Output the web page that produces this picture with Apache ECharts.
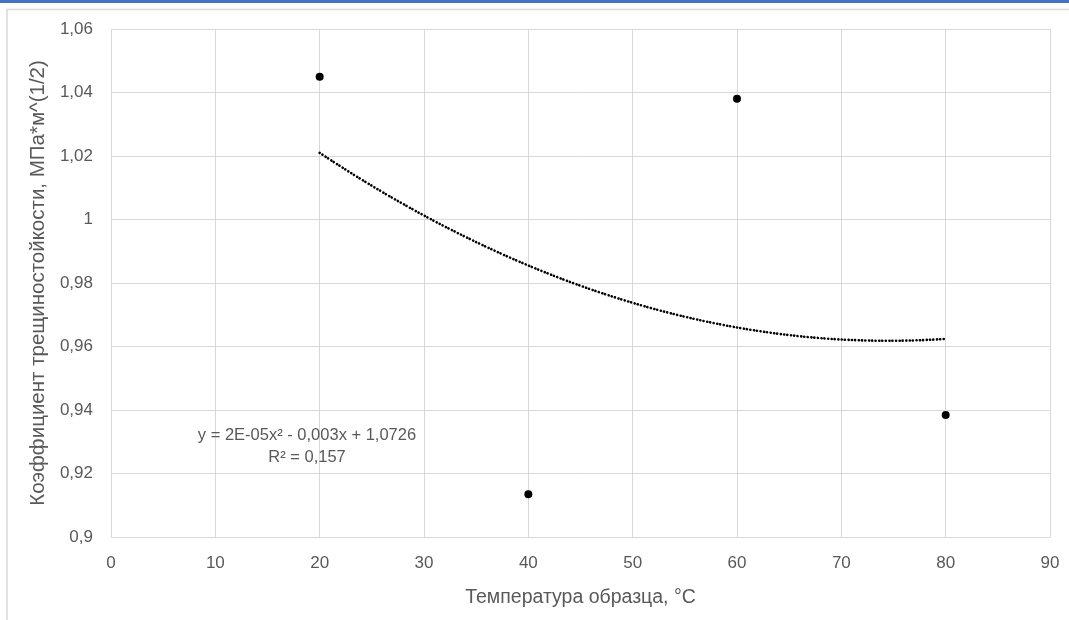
<!DOCTYPE html>
<html>
<head>
<meta charset="utf-8">
<script src="https://cdn.jsdelivr.net/npm/echarts@6/dist/echarts.min.js"></script>
<style>
  html, body { margin: 0; padding: 0; background: #ffffff; }
  #chart { width: 1069px; height: 620px; }
</style>
</head>
<body>
<div id="chart"></div>
<script>
// Measured samples: specimen temperature and fracture toughness
const tempC = [20, 40, 60, 80];
const kIc = [1.045, 0.9135, 1.038, 0.9384];

// Axis ticks
const xTicks = [0, 10, 20, 30, 40, 50, 60, 70, 80, 90];
const yTicks = [0.9, 0.92, 0.94, 0.96, 0.98, 1, 1.02, 1.04, 1.06];

// Trendline caption
const trendCaption = ['y = 2E-05x² - 0,003x + 1,0726', 'R² = 0,157'];

const axisNames = {
  x: 'Температура образца, °C',
  y: 'Коэффициент трещиностойкости, МПа*м^(1/2)'
};

// Second-order least-squares fit of the measurements (polynomial trendline)
function quadFit(xs, ys) {
  const n = xs.length;
  let s = [0, 0, 0, 0, 0], t = [0, 0, 0];
  for (let i = 0; i < n; i++) {
    let p = 1;
    for (let k = 0; k < 5; k++) { s[k] += p; if (k < 3) t[k] += p * ys[i]; p *= xs[i]; }
  }
  // normal equations for c0 + c1 x + c2 x^2
  const M = [[s[0], s[1], s[2], t[0]], [s[1], s[2], s[3], t[1]], [s[2], s[3], s[4], t[2]]];
  for (let c = 0; c < 3; c++) {
    let piv = c;
    for (let r = c + 1; r < 3; r++) if (Math.abs(M[r][c]) > Math.abs(M[piv][c])) piv = r;
    [M[c], M[piv]] = [M[piv], M[c]];
    for (let r = 0; r < 3; r++) {
      if (r === c) continue;
      const f = M[r][c] / M[c][c];
      for (let k = c; k < 4; k++) M[r][k] -= f * M[c][k];
    }
  }
  return [M[0][3] / M[0][0], M[1][3] / M[1][1], M[2][3] / M[2][2]];
}

const coef = quadFit(tempC, kIc);
const trendPts = [];
const xFirst = tempC[0], xLast = tempC[tempC.length - 1];
for (let x = xFirst; x <= xLast + 1e-9; x += 0.5) {
  trendPts.push([x, coef[0] + coef[1] * x + coef[2] * x * x]);
}

const fmt = v => String(parseFloat(v.toFixed(2))).replace('.', ',');
const FONT = '"Liberation Sans", "Noto Sans", sans-serif';
const GREY = '#595959';

const chart = echarts.init(document.getElementById('chart'), null, { renderer: 'canvas' });
chart.setOption({
  backgroundColor: '#ffffff',
  animation: false,
  textStyle: { fontFamily: FONT },
  grid: { left: 111, right: 19, top: 29, bottom: 83 },
  xAxis: {
    type: 'value',
    min: xTicks[0],
    max: xTicks[xTicks.length - 1],
    interval: xTicks[1] - xTicks[0],
    name: axisNames.x,
    nameLocation: 'middle',
    nameGap: 51,
    nameTextStyle: { color: GREY, fontSize: 19.5, fontFamily: FONT },
    axisLine: { show: true, lineStyle: { color: '#d9d9d9', width: 1 } },
    axisTick: { show: false },
    axisLabel: { color: GREY, fontSize: 17, margin: 18, formatter: v => String(v) },
    splitLine: { show: true, lineStyle: { color: '#d9d9d9', width: 1 } }
  },
  yAxis: {
    type: 'value',
    min: yTicks[0],
    max: yTicks[yTicks.length - 1],
    interval: 0.02,
    name: axisNames.y,
    nameLocation: 'middle',
    nameGap: 59,
    nameTextStyle: { color: GREY, fontSize: 20.5, fontFamily: FONT },
    axisLine: { show: false },
    axisTick: { show: false },
    axisLabel: { color: GREY, fontSize: 17, margin: 18, formatter: fmt },
    splitLine: { show: true, lineStyle: { color: '#d9d9d9', width: 1 } }
  },
  graphic: [
    { type: 'rect', shape: { x: 0, y: 0, width: 1069, height: 3 }, style: { fill: '#4472c4' }, z: 10 },
    { type: 'rect', shape: { x: 7, y: 9.5, width: 1080, height: 640 }, style: { fill: 'none', stroke: '#d9d9d9', lineWidth: 1.5 }, z: 10 },
    { type: 'text', x: 307, y: 435, style: { text: trendCaption[0], fill: GREY, font: '16.5px ' + FONT, textAlign: 'center', textVerticalAlign: 'middle' }, z: 10 },
    { type: 'text', x: 307, y: 457, style: { text: trendCaption[1], fill: GREY, font: '16.5px ' + FONT, textAlign: 'center', textVerticalAlign: 'middle' }, z: 10 }
  ],
  series: [
    {
      name: 'trend',
      type: 'line',
      data: trendPts,
      showSymbol: false,
      smooth: true,
      lineStyle: { color: '#000000', width: 2.6, type: [0.1, 3.3], cap: 'round' },
      z: 2
    },
    {
      name: 'samples',
      type: 'scatter',
      data: tempC.map((x, i) => [x, kIc[i]]),
      symbol: 'circle',
      symbolSize: 8,
      itemStyle: { color: '#000000', opacity: 1 },
      z: 3
    }
  ]
});
</script>
</body>
</html>
